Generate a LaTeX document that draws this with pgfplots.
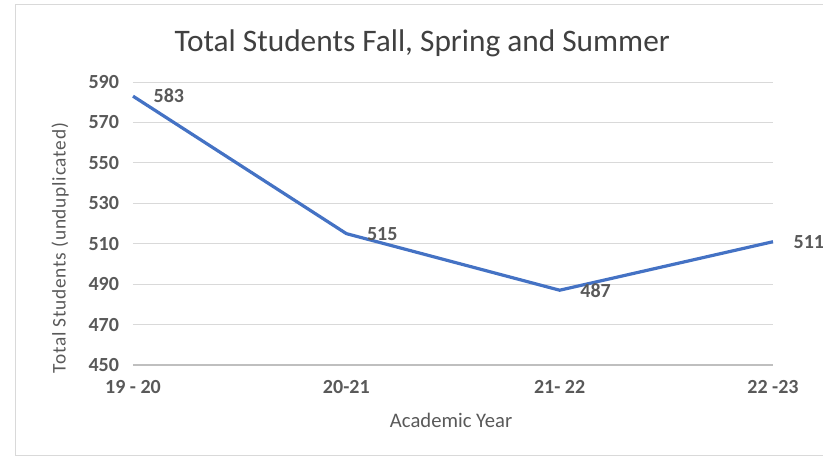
\documentclass[border=0pt]{standalone}
\usepackage{pgfplots}
\pgfplotsset{compat=1.18}
\usepackage{fontspec}
\setmainfont{Carlito}
\definecolor{lineblue}{HTML}{4472C4}
\definecolor{txtgray}{HTML}{595959}
\definecolor{gridgray}{HTML}{D9D9D9}

\begin{document}
\begin{tikzpicture}
% outer frame and page size (1px = 0.75pt, origin at axis south west)
\useasboundingbox (-99.75pt,-69.75pt) rectangle (517.5pt,273.75pt);
\draw[gridgray, line width=0.75pt] (-87.75pt,-67.5pt) rectangle (520pt,270pt);
\begin{axis}[
  at={(0pt,0pt)}, anchor=south west,
  scale only axis,
  width=480pt, height=212.25pt,
  xmin=0, xmax=3, ymin=450, ymax=590,
  xtick={0,1,2,3},
  xticklabels={19 - 20, 20-21, 21- 22, 22 -23},
  ytick={450,470,...,590},
  ymajorgrids,
  grid style={gridgray, line width=0.75pt},
  axis line style={draw=none},
  major tick length=0pt,
  /pgf/number format/assume math mode=true,
  tick label style={font=\fontsize{15}{17}\selectfont\bfseries, text=txtgray},
  yticklabel style={xshift=-7pt},
  xticklabel style={yshift=-8pt},
  title={Total Students Fall, Spring and Summer},
  title style={font=\fontsize{23.5}{27}\selectfont, text=black!75, at={(0.452,1)}, anchor=center, yshift=23pt},
  xlabel={Academic Year},
  xlabel style={font=\fontsize{15.5}{18}\selectfont, text=txtgray, at={(axis description cs:0.497,-0.194)}, anchor=center},
  ylabel={Total Students (unduplicated)},
  ylabel style={font=\fontsize{14.5}{17}\selectfont\addfontfeatures{LetterSpace=4}, text=txtgray, at={(axis description cs:-0.114,0.413)}, anchor=center},
  nodes near coords,
  every node near coord/.append style={font=\fontsize{15}{17}\selectfont\bfseries, text=txtgray, anchor=west, xshift=11pt},
  clip=false,
]
\draw[black!25, line width=0.9pt] (axis cs:0,450) -- (axis cs:3,450);
\addplot[lineblue, line width=2.4pt, mark=none] coordinates {
  (0,583) (1,515) (2,487) (3,511)
};
\end{axis}
\end{tikzpicture}
\end{document}
